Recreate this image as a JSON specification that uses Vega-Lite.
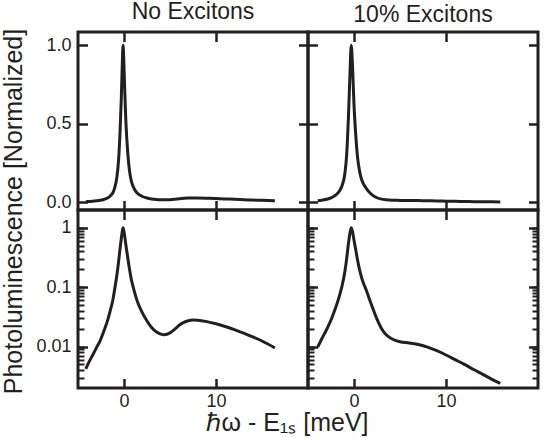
{
  "$schema": "https://vega.github.io/schema/vega-lite/v6.json",
  "padding": {"left": -1, "top": -1, "right": 5, "bottom": 0},
  "background": "white",
  "columns": 2,
  "spacing": 0,
  "bounds": "flush",
  "datasets": {
    "noex": [
      {"x": -4.15, "y": 0.0042}, {"x": -3.8, "y": 0.0055}, {"x": -3.4, "y": 0.0072}, {"x": -3.0, "y": 0.0095},
      {"x": -2.6, "y": 0.0125}, {"x": -2.2, "y": 0.018}, {"x": -1.8, "y": 0.027}, {"x": -1.5, "y": 0.04},
      {"x": -1.2, "y": 0.062}, {"x": -1.0, "y": 0.095}, {"x": -0.8, "y": 0.15}, {"x": -0.6, "y": 0.26},
      {"x": -0.45, "y": 0.42}, {"x": -0.3, "y": 0.65}, {"x": -0.2, "y": 0.85}, {"x": -0.1, "y": 1.0},
      {"x": 0.0, "y": 0.86}, {"x": 0.1, "y": 0.68}, {"x": 0.2, "y": 0.52}, {"x": 0.4, "y": 0.32},
      {"x": 0.6, "y": 0.2}, {"x": 0.8, "y": 0.135}, {"x": 1.0, "y": 0.1}, {"x": 1.3, "y": 0.068},
      {"x": 1.6, "y": 0.05}, {"x": 2.0, "y": 0.037}, {"x": 2.5, "y": 0.027}, {"x": 3.0, "y": 0.021},
      {"x": 3.5, "y": 0.0178}, {"x": 4.0, "y": 0.0162}, {"x": 4.4, "y": 0.0158}, {"x": 5.0, "y": 0.017},
      {"x": 5.5, "y": 0.0195}, {"x": 6.0, "y": 0.0228}, {"x": 6.5, "y": 0.0255}, {"x": 7.0, "y": 0.0272},
      {"x": 7.5, "y": 0.028}, {"x": 8.0, "y": 0.0278}, {"x": 9.0, "y": 0.0263}, {"x": 10.0, "y": 0.0242},
      {"x": 11.0, "y": 0.0218}, {"x": 12.0, "y": 0.0193}, {"x": 13.0, "y": 0.0168}, {"x": 14.0, "y": 0.0145},
      {"x": 15.0, "y": 0.0124}, {"x": 16.4, "y": 0.0095}
    ],
    "ex10": [
      {"x": -3.95, "y": 0.0098}, {"x": -3.5, "y": 0.0135}, {"x": -3.0, "y": 0.019}, {"x": -2.5, "y": 0.028},
      {"x": -2.0, "y": 0.045}, {"x": -1.6, "y": 0.07}, {"x": -1.3, "y": 0.105}, {"x": -1.0, "y": 0.18},
      {"x": -0.8, "y": 0.3}, {"x": -0.6, "y": 0.55}, {"x": -0.45, "y": 0.8}, {"x": -0.3, "y": 1.0},
      {"x": -0.15, "y": 0.85}, {"x": 0.0, "y": 0.62}, {"x": 0.2, "y": 0.42}, {"x": 0.4, "y": 0.28},
      {"x": 0.6, "y": 0.2}, {"x": 0.8, "y": 0.15}, {"x": 1.0, "y": 0.12}, {"x": 1.3, "y": 0.092},
      {"x": 1.6, "y": 0.068}, {"x": 2.0, "y": 0.046}, {"x": 2.5, "y": 0.029}, {"x": 3.0, "y": 0.02},
      {"x": 3.5, "y": 0.0158}, {"x": 4.0, "y": 0.0138}, {"x": 4.5, "y": 0.0127}, {"x": 5.0, "y": 0.012},
      {"x": 6.0, "y": 0.0115}, {"x": 7.0, "y": 0.0108}, {"x": 8.0, "y": 0.0098}, {"x": 9.0, "y": 0.0085},
      {"x": 10.0, "y": 0.0072}, {"x": 11.0, "y": 0.006}, {"x": 12.0, "y": 0.005}, {"x": 13.0, "y": 0.0041},
      {"x": 14.0, "y": 0.0034}, {"x": 15.0, "y": 0.0028}, {"x": 15.9, "y": 0.0024}
    ]
  },
  "concat": [
    {
      "width": 230, "height": 178,
      "title": {"text": "No Excitons"},
      "data": {"name": "noex"},
      "resolve": {"axis": {"x": "independent", "y": "independent"}},
      "layer": [
        {
          "mark": {"type": "line", "interpolate": "monotone", "stroke": "#231f20", "strokeWidth": 3},
          "encoding": {
            "x": {"field": "x", "type": "quantitative", "scale": {"domain": [-5, 20], "nice": false, "zero": false},
                  "axis": {"orient": "bottom", "values": [0, 10], "labels": false, "tickSize": -9.5, "tickColor": "#231f20", "tickWidth": 2.5, "title": null}},
            "y": {"field": "y", "type": "quantitative", "scale": {"domain": [-0.049, 1.084], "nice": false, "zero": false},
                  "axis": {"orient": "left", "values": [0, 0.5, 1], "format": ".1f", "tickSize": -9.5, "tickColor": "#231f20", "tickWidth": 2.5, "labelPadding": 16.5,
                           "title": "Photoluminescence [Normalized]", "titleY": 179, "titleX": -57, "titleBaseline": "alphabetic", "titleAngle": -90}}
          }
        },
        {
          "mark": {"type": "point", "opacity": 0},
          "encoding": {
            "x": {"field": "x", "type": "quantitative", "axis": {"orient": "top", "values": [0, 10], "labels": false, "tickSize": -9.5, "tickColor": "#231f20", "tickWidth": 2.5, "title": null}},
            "y": {"field": "y", "type": "quantitative", "axis": {"orient": "right", "values": [0, 0.5, 1], "labels": false, "tickSize": -9.5, "tickColor": "#231f20", "tickWidth": 2.5, "title": null}}
          }
        }
      ]
    },
    {
      "width": 230, "height": 178,
      "title": {"text": "10% Excitons"},
      "data": {"name": "ex10"},
      "resolve": {"axis": {"x": "independent", "y": "independent"}},
      "layer": [
        {
          "mark": {"type": "line", "interpolate": "monotone", "stroke": "#231f20", "strokeWidth": 3},
          "encoding": {
            "x": {"field": "x", "type": "quantitative", "scale": {"domain": [-5, 20], "nice": false, "zero": false},
                  "axis": {"orient": "bottom", "values": [0, 10], "labels": false, "tickSize": -9.5, "tickColor": "#231f20", "tickWidth": 2.5, "title": null}},
            "y": {"field": "y", "type": "quantitative", "scale": {"domain": [-0.049, 1.084], "nice": false, "zero": false},
                  "axis": {"orient": "left", "values": [0, 0.5, 1], "labels": false, "tickSize": -9.5, "tickColor": "#231f20", "tickWidth": 2.5, "title": null}}
          }
        },
        {
          "mark": {"type": "point", "opacity": 0},
          "encoding": {
            "x": {"field": "x", "type": "quantitative", "axis": {"orient": "top", "values": [0, 10], "labels": false, "tickSize": -9.5, "tickColor": "#231f20", "tickWidth": 2.5, "title": null}},
            "y": {"field": "y", "type": "quantitative", "axis": {"orient": "right", "values": [0, 0.5, 1], "labels": false, "tickSize": -9.5, "tickColor": "#231f20", "tickWidth": 2.5, "title": null}}
          }
        }
      ]
    },
    {
      "width": 230, "height": 178,
      "data": {"name": "noex"},
      "resolve": {"axis": {"x": "independent", "y": "independent"}},
      "layer": [
        {
          "mark": {"type": "line", "interpolate": "monotone", "stroke": "#231f20", "strokeWidth": 3},
          "encoding": {
            "x": {"field": "x", "type": "quantitative", "scale": {"domain": [-5, 20], "nice": false, "zero": false},
                  "axis": {"orient": "bottom", "values": [0, 10], "tickSize": -9.5, "tickColor": "#231f20", "tickWidth": 2.5, "labelPadding": 13.5,
                           "title": "ℏω - E₁ₛ [meV]", "titleX": 209, "titleY": 42, "titleBaseline": "alphabetic"}},
            "y": {"field": "y", "type": "quantitative", "scale": {"type": "log", "domain": [0.002, 2], "nice": false},
                  "axis": {"orient": "left", "values": [0.01, 0.1, 1], "tickSize": -9.5, "tickColor": "#231f20", "tickWidth": 2.5, "labelPadding": 16.5, "title": null,
                           "labelExpr": "datum.value == 1 ? '1' : datum.value == 0.1 ? '0.1' : '0.01'"}}
          }
        },
        {
          "mark": {"type": "point", "opacity": 0},
          "encoding": {
            "x": {"field": "x", "type": "quantitative", "axis": {"orient": "top", "values": [0, 10], "labels": false, "tickSize": -9.5, "tickColor": "#231f20", "tickWidth": 2.5, "title": null}},
            "y": {"field": "y", "type": "quantitative", "axis": {"orient": "left", "labels": false, "tickSize": -6, "tickColor": "#231f20", "tickWidth": 2, "title": null,
                  "values": [0.003,0.004,0.005,0.006,0.007,0.008,0.009,0.01,0.02,0.03,0.04,0.05,0.06,0.07,0.08,0.09,0.1,0.2,0.3,0.4,0.5,0.6,0.7,0.8,0.9,1]}}
          }
        }
      ]
    },
    {
      "width": 230, "height": 178,
      "data": {"name": "ex10"},
      "resolve": {"axis": {"x": "independent", "y": "independent"}},
      "layer": [
        {
          "mark": {"type": "line", "interpolate": "monotone", "stroke": "#231f20", "strokeWidth": 3},
          "encoding": {
            "x": {"field": "x", "type": "quantitative", "scale": {"domain": [-5, 20], "nice": false, "zero": false},
                  "axis": {"orient": "bottom", "values": [0, 10], "tickSize": -9.5, "tickColor": "#231f20", "tickWidth": 2.5, "labelPadding": 13.5, "title": null}},
            "y": {"field": "y", "type": "quantitative", "scale": {"type": "log", "domain": [0.002, 2], "nice": false},
                  "axis": {"orient": "left", "values": [0.01, 0.1, 1], "tickSize": -9.5, "tickColor": "#231f20", "tickWidth": 2.5, "labels": false, "title": null}}
          }
        },
        {
          "mark": {"type": "point", "opacity": 0},
          "encoding": {
            "x": {"field": "x", "type": "quantitative", "axis": {"orient": "top", "values": [0, 10], "labels": false, "tickSize": -9.5, "tickColor": "#231f20", "tickWidth": 2.5, "title": null}},
            "y": {"field": "y", "type": "quantitative", "axis": {"orient": "left", "labels": false, "tickSize": -6, "tickColor": "#231f20", "tickWidth": 2, "title": null,
                  "values": [0.003,0.004,0.005,0.006,0.007,0.008,0.009,0.01,0.02,0.03,0.04,0.05,0.06,0.07,0.08,0.09,0.1,0.2,0.3,0.4,0.5,0.6,0.7,0.8,0.9,1]}}
          }
        },
        {
          "mark": {"type": "point", "opacity": 0},
          "encoding": {
            "x": {"field": "x", "type": "quantitative", "axis": null},
            "y": {"field": "y", "type": "quantitative", "axis": {"orient": "right", "values": [0.01, 0.1, 1], "labels": false, "tickSize": -9.5, "tickColor": "#231f20", "tickWidth": 2.5, "title": null}}
          }
        },
        {
          "mark": {"type": "point", "opacity": 0},
          "encoding": {
            "x": {"field": "x", "type": "quantitative", "axis": null},
            "y": {"field": "y", "type": "quantitative", "axis": {"orient": "right", "labels": false, "tickSize": -6, "tickColor": "#231f20", "tickWidth": 2, "title": null,
                  "values": [0.003,0.004,0.005,0.006,0.007,0.008,0.009,0.01,0.02,0.03,0.04,0.05,0.06,0.07,0.08,0.09,0.1,0.2,0.3,0.4,0.5,0.6,0.7,0.8,0.9,1]}}
          }
        }
      ]
    }
  ],
  "config": {
    "font": "Liberation Sans",
    "view": {"stroke": "#231f20", "strokeWidth": 3},
    "axis": {"domain": false, "grid": false, "ticks": true, "zindex": 1, "tickOpacity": 1, "labelFont": "Liberation Sans", "labelFontSize": 18,
             "labelColor": "#231f20", "titleFont": "Liberation Sans", "titleFontSize": 25, "titleFontWeight": "normal", "titleColor": "#231f20"},
    "title": {"font": "Liberation Sans", "fontSize": 23, "fontWeight": "normal", "color": "#231f20", "offset": 0, "anchor": "middle"},
    "point": {"opacity": 0}
  }
}
